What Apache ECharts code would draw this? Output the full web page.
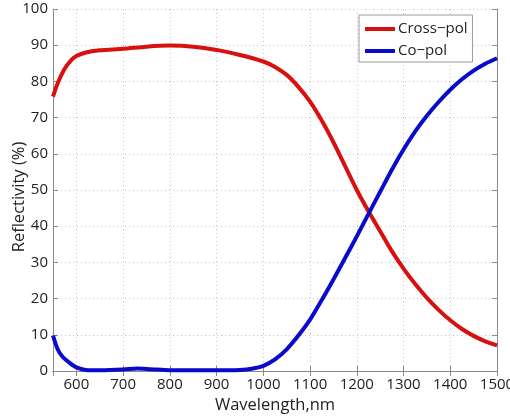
<!DOCTYPE html>
<html><head><meta charset="utf-8">
<script src="https://cdn.jsdelivr.net/npm/echarts@6/dist/echarts.min.js"></script>
<style>html,body{margin:0;padding:0;background:#fff}#c{width:510px;height:416px}</style>
</head><body><div id="c"></div>
<script>
const crossWl = [550,560,575,590,600,620,650,700,750,800,850,900,950,1000,1025,1050,1075,1100,1125,1150,1175,1200,1225,1250,1275,1300,1325,1350,1375,1400,1425,1450,1475,1500];
const crossVal = [75.8,79.5,83.5,86,87,88,88.6,89,89.6,89.9,89.6,88.7,87.3,85.5,84,81.8,78.5,74.4,69.2,63.2,56.6,50,44.1,38.6,33.1,28.3,24,20.2,16.9,14,11.6,9.7,8.2,7.1];
const coWl = [550,560,570,585,600,620,650,700,730,760,800,900,950,975,1000,1025,1050,1075,1100,1125,1150,1175,1200,1225,1250,1275,1300,1325,1350,1375,1400,1425,1450,1475,1500];
const coVal = [9.8,6,4,2.3,1,0.3,0.2,0.4,0.7,0.5,0.2,0.2,0.3,0.6,1.4,3.2,6,9.8,14.2,19.6,25.3,31.2,37.2,43.4,49.5,55.6,61.2,66.2,70.5,74.3,77.7,80.6,83,84.9,86.4];
const seriesNames = ['Cross\u2212pol','Co\u2212pol'];
const xName = 'Wavelength,nm';
const yName = 'Reflectivity (%)';

const font = 'Open Sans';
const axisGray = '#8a8a8a';
const gridStyle = {show:true, lineStyle:{color:'#c4c4c4', type:[1,3], width:1}};
const chart = echarts.init(document.getElementById('c'), null, {renderer:'canvas'});
const pair = (xs, ys) => xs.map((x,i)=>[x, ys[i]]);
const plain = v => String(v);
chart.setOption({
  backgroundColor:'#fff',
  animation:false,
  grid:{left:53, right:13, top:9, bottom:45, containLabel:false, outerBoundsMode:'none'},
  legend:{
    orient:'vertical', left:359, top:15,
    icon:'rect', itemWidth:30, itemHeight:4, itemGap:6,
    backgroundColor:'#fff', borderColor:'#9a9a9a', borderWidth:1,
    padding:[6,5,3,6],
    textStyle:{fontFamily:font, fontSize:15, color:'#222', lineHeight:16, padding:[0,0,0,-2]},
    data: seriesNames
  },
  graphic:[{
    type:'text', x:19, y:197, rotation:Math.PI/2,
    style:{text:yName, fontFamily:font, fontSize:16.5, fill:'#222', align:'center', verticalAlign:'middle'}
  }],
  xAxis:[{
    type:'value', min:550, max:1500, splitNumber:10,
    name:xName, nameLocation:'middle', nameGap:25,
    nameTextStyle:{fontFamily:font, fontSize:16.5, color:'#222'},
    axisLine:{lineStyle:{color:axisGray, width:1}},
    axisTick:{inside:true, length:5, lineStyle:{color:axisGray}},
    axisLabel:{fontFamily:font, fontSize:15, color:'#222', margin:6, showMinLabel:false, formatter:plain},
    splitLine:gridStyle
  },{
    type:'value', min:550, max:1500, splitNumber:10, position:'top',
    axisLine:{show:true, lineStyle:{color:axisGray, width:1}},
    axisTick:{inside:true, length:5, lineStyle:{color:axisGray}},
    axisLabel:{show:false}, splitLine:{show:false}
  }],
  yAxis:[{
    type:'value', min:0, max:100, interval:10,
    axisLine:{show:true, lineStyle:{color:axisGray, width:1}},
    axisTick:{show:true, inside:true, length:5, lineStyle:{color:axisGray}},
    axisLabel:{fontFamily:font, fontSize:15, color:'#222', margin:5, formatter:plain},
    splitLine:gridStyle
  },{
    type:'value', min:0, max:100, interval:10, position:'right',
    axisLine:{show:true, lineStyle:{color:axisGray, width:1}},
    axisTick:{show:true, inside:true, length:5, lineStyle:{color:axisGray}},
    axisLabel:{show:false}, splitLine:{show:false}
  }],
  series:[{
    name:seriesNames[0], type:'line', data:pair(crossWl, crossVal),
    smooth:0.3, symbol:'none', color:'#d81010',
    lineStyle:{width:4, color:'#d81010'}
  },{
    name:seriesNames[1], type:'line', data:pair(coWl, coVal),
    smooth:0.3, symbol:'none', color:'#0a0acc',
    lineStyle:{width:4, color:'#0a0acc'}
  }]
});
</script></body></html>
